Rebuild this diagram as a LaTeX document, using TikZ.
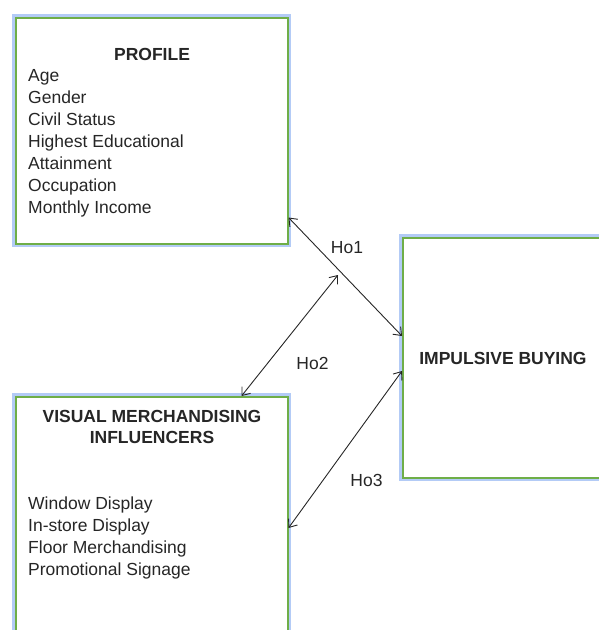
\documentclass[tikz,border=0pt]{standalone}
\usepackage{fontspec}
\setmainfont{Liberation Sans}
\usepackage{tikz}
\usetikzlibrary{positioning,arrows.meta,calc}
\usepackage{xcolor}
\definecolor{boxgreen}{HTML}{6FAE48}
\definecolor{glowblue}{HTML}{B3CBF6}
\definecolor{inkgray}{HTML}{262626}

\begin{document}
\begin{tikzpicture}[x=1pt, y=-1pt,
    varbox/.style={draw=boxgreen, line width=1.5pt, fill=white, inner sep=0pt, anchor=north west,
        preaction={draw=glowblue, line width=7pt}},
    boxtitle/.style={font=\fontsize{17.5}{21}\selectfont\bfseries, text=inkgray, align=center, inner sep=0pt, anchor=base},
    itemlist/.style={font=\fontsize{17.5}{22}\selectfont, text=inkgray, align=left, inner sep=0pt, anchor=north west},
    hyplabel/.style={font=\fontsize{17.5}{21}\selectfont, text=inkgray, inner sep=0pt, anchor=base},
    hyparrow/.style={{Straight Barb[length=7pt,width=11pt]}-{Straight Barb[length=7pt,width=11pt]}, line width=0.9pt, inkgray}]
    \useasboundingbox (0,0) rectangle (599,630);

    % Variable boxes
    \node[varbox, minimum width=272pt, minimum height=226pt] (profile) at (15,17) {};
    \node[varbox, minimum width=210pt, minimum height=240pt] (impulsive) at (402,237) {};
    \node[varbox, minimum width=272pt, minimum height=250pt] (visual) at (15,396) {};

    % Profile texts
    \node[boxtitle] (profiletitle) at (152,60) {PROFILE};
    \node[itemlist] (profileitems) at (28,69.5) {Age\\Gender\\Civil Status\\Highest Educational\\Attainment\\Occupation\\Monthly Income};

    % Dependent variable
    \node[boxtitle] (impulsivetitle) at (503,364) {IMPULSIVE BUYING};

    % Visual merchandising texts
    \node[boxtitle] (visualtitle) at (152,443) {VISUAL MERCHANDISING\\INFLUENCERS};
    \node[itemlist] (visualitems) at (28,497) {Window Display\\In-store Display\\Floor Merchandising\\Promotional Signage};

    % Hypotheses connectors
    \coordinate (hotwoend) at (338,275);
    \draw[hyparrow] ([yshift=27pt]profile.south east) -- ([yshift=-99pt]impulsive.north west);
    \draw[hyparrow] ([xshift=-47pt]visual.north east) -- (hotwoend);
    \draw[hyparrow] ([yshift=-132pt]visual.north east) -- ([yshift=-134pt]impulsive.north west);

    \node[hyplabel] (hoone) at (347,253) {Ho1};
    \node[hyplabel] (hotwo) at (312.5,369) {Ho2};
    \node[hyplabel] (hothree) at (366.5,486) {Ho3};
\end{tikzpicture}
\end{document}
